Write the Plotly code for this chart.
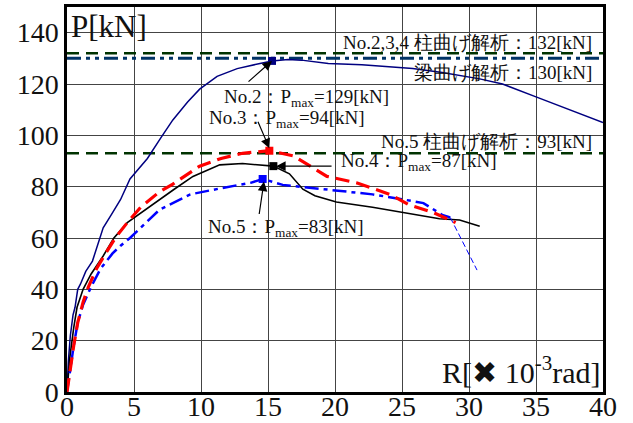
import plotly.graph_objects as go

# ---- data ----
no2_x = [0, 0.1, 0.25, 0.45, 0.6, 0.8, 1.0, 1.4, 1.9, 2.7, 3.3, 4.0, 4.7, 6.0, 7.0, 7.9, 9.0, 9.9, 11.2, 12.7, 14.4, 15.3, 16.5, 17.5, 19.5, 22, 25.8, 28, 30.8, 32.5, 35, 37.5, 40]
no2_y = [0, 12, 22, 30, 33, 40, 42, 47, 51, 64, 69, 75, 83, 91, 99, 106, 113, 118, 123, 126, 128, 129, 129.5, 129.3, 128, 127.5, 126, 124.5, 122, 120, 115, 110, 105]

no3_x = [0, 0.2, 0.5, 0.8, 1.2, 1.6, 2.2, 3.0, 3.6, 4.5, 5.5, 6.9, 7.9, 9.9, 11.5, 13.1, 15.1, 16.9, 18.2, 19.4, 21.6, 24.1, 25.5, 27.3, 29]
no3_y = [0, 8, 18, 27, 35, 41, 48, 55, 60, 66, 72, 78, 81, 88, 91, 93, 94, 92, 88, 84, 81.5, 77, 73, 70, 66]

no4_x = [0, 0.2, 0.5, 0.75, 1.2, 1.8, 2.7, 3.5, 4.5, 6.9, 8.0, 9.4, 11.4, 13.1, 15.4, 16.6, 17.6, 18.5, 20.1, 22.8, 25.1, 27.8, 29.3, 30.8]
no4_y = [0, 13, 25, 33, 40, 46, 53, 60, 66, 75, 79, 84, 88.5, 89, 88, 85, 79, 76.5, 74, 72, 70, 67.5, 67, 64.6]

no5_x = [0, 0.2, 0.5, 0.8, 1.2, 1.8, 2.5, 3.4, 4.0, 4.7, 6.9, 9.2, 10.7, 11.6, 13.7, 14.6, 16.1, 19.1, 22.8, 25.1, 26.6, 28.0, 28.6]
no5_y = [0, 8, 18, 27, 34, 41, 48, 54, 57, 60, 71, 77, 78.7, 79.5, 81.5, 83, 80.7, 79, 77, 75, 73.6, 69, 68]
no5_tail_x = [28.6, 30.6]
no5_tail_y = [68, 47.5]

peak_x = [15.3, 15.1, 15.4, 14.6]
peak_y = [129, 94, 88, 83]
peak_colors = ["#000080", "#FF0000", "#000000", "#0000FF"]

ref_col_all = 132
ref_beam = 130
ref_col5 = 93

xticks = [0, 5, 10, 15, 20, 25, 30, 35, 40]
yticks = [0, 20, 40, 60, 80, 100, 120, 140]

SERIF = "Liberation Serif"

fig = go.Figure()

# reference lines
fig.add_trace(go.Scatter(x=[0, 40], y=[ref_col_all] * 2, mode="lines",
                         line=dict(color="#003300", width=2.5, dash="12px,7px"), hoverinfo="skip"))
fig.add_trace(go.Scatter(x=[0, 40], y=[ref_beam] * 2, mode="lines",
                         line=dict(color="#003366", width=3, dash="14px,5px,4px,5px,4px,5px"), hoverinfo="skip"))
fig.add_trace(go.Scatter(x=[0, 40], y=[ref_col5] * 2, mode="lines",
                         line=dict(color="#003300", width=2.5, dash="12px,7px"), hoverinfo="skip"))

# curves
fig.add_trace(go.Scatter(x=no2_x, y=no2_y, mode="lines", line=dict(color="#000080", width=1.5)))
fig.add_trace(go.Scatter(x=no4_x, y=no4_y, mode="lines", line=dict(color="#000000", width=1.6)))
fig.add_trace(go.Scatter(x=no5_x, y=no5_y, mode="lines",
                         line=dict(color="#0000FF", width=2.5, dash="14px,5px,4px,5px")))
fig.add_trace(go.Scatter(x=no5_tail_x, y=no5_tail_y, mode="lines",
                         line=dict(color="#0000FF", width=1, dash="6px,3px")))
fig.add_trace(go.Scatter(x=no3_x, y=no3_y, mode="lines",
                         line=dict(color="#FF0000", width=3.2, dash="14px,7px")))

# peak markers
fig.add_trace(go.Scatter(x=peak_x, y=peak_y, mode="markers",
                         marker=dict(symbol="square", size=8, color=peak_colors)))

anns = []
# arrows
arrow_specs = [
    (peak_x[0], peak_y[0], -25, 22),
    (peak_x[1], peak_y[1] + 1, -12, -28),
    (peak_x[2] + 0.2, peak_y[2], 57, 0),
    (peak_x[3] + 0.1, peak_y[3] - 1, -5, 34),
]
for hx, hy, ax, ay in arrow_specs:
    anns.append(dict(x=hx, y=hy, ax=ax, ay=ay, xref="x", yref="y", text="",
                     showarrow=True, arrowhead=2, arrowsize=1.6, arrowwidth=1.2, arrowcolor="black"))

def txt(x, y, t, xanchor, size=19):
    anns.append(dict(x=x, y=y, xref="x", yref="y", text=t, showarrow=False,
                     xanchor=xanchor, yanchor="middle",
                     font=dict(family=SERIF, size=size, color="#111")))

txt(17.9, 114.5, "No.2：P<sub>max</sub>=129[kN]", "center")
txt(16.4, 106.5, "No.3：P<sub>max</sub>=94[kN]", "center")
txt(20.3, 89.5, "No.4：P<sub>max</sub>=87[kN]", "left")
txt(10.4, 64, "No.5：P<sub>max</sub>=83[kN]", "left")
txt(39.3, 136, "No.2,3,4 柱曲げ解析：132[kN]", "right", 19)
txt(39.3, 124.5, "梁曲げ解析：130[kN]", "right", 19)
txt(39.3, 97.5, "No.5 柱曲げ解析：93[kN]", "right", 19)

anns.append(dict(x=0.003, y=1.0, xref="paper", yref="paper", text="P[kN]", showarrow=False,
                 xanchor="left", yanchor="top", font=dict(family=SERIF, size=31, color="#111")))
anns.append(dict(x=0.998, y=0.0, xref="paper", yref="paper",
                 text="R[<span style='font-family:DejaVu Sans'>✖</span> 10<sup>-3</sup>rad]",
                 showarrow=False, xanchor="right", yanchor="bottom",
                 font=dict(family=SERIF, size=30, color="#111")))

fig.update_layout(
    width=633, height=423,
    margin=dict(l=67, r=30, t=7, b=31),
    plot_bgcolor="white", paper_bgcolor="white",
    showlegend=False,
    annotations=anns,
    xaxis=dict(range=[0, 40], tickvals=xticks, showgrid=True, gridcolor="#444", gridwidth=1.2,
               showline=True, linecolor="black", linewidth=2.5, mirror=True, zeroline=False,
               automargin=False, ticks="", ticklabelstandoff=-12,
               tickfont=dict(family=SERIF, size=28, color="#111")),
    yaxis=dict(range=[0, 150], tickvals=yticks, showgrid=True, gridcolor="#444", gridwidth=1.2,
               showline=True, linecolor="black", linewidth=2.5, mirror=True, zeroline=False,
               automargin=False, ticks="", tickfont=dict(family=SERIF, size=28, color="#111")),
)

fig.write_html("out.html")
